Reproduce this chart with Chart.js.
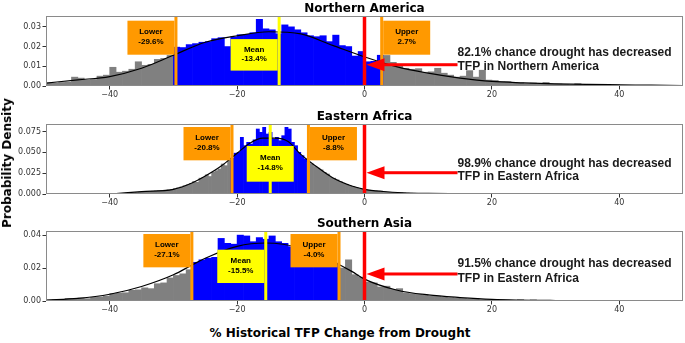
<!DOCTYPE html>
<html><head><meta charset="utf-8">
<script src="https://cdn.jsdelivr.net/npm/chart.js@4"></script>
<style>
html,body{margin:0;padding:0;background:#fff;}
#wrap{position:relative;width:685px;height:343px;overflow:hidden;background:#fff;}
canvas{position:absolute;left:0;}
.lbl{position:absolute;font:bold 12px "DejaVu Sans";color:#000;white-space:nowrap;transform-origin:center center;}
#xl{left:340px;top:333px;transform:translate(-50%,-50%);}
#yl{left:7px;top:163px;transform:translate(-50%,-50%) rotate(-90deg);}
</style></head><body>
<div id="wrap">
<canvas id="c0" width="685" height="106" style="top:0px"></canvas>
<canvas id="c1" width="685" height="106" style="top:108px"></canvas>
<canvas id="c2" width="685" height="106" style="top:215px"></canvas>
<div class="lbl" id="xl">% Historical TFP Change from Drought</div>
<div class="lbl" id="yl">Probability Density</div>
</div>
<script>
// ---------------- data ----------------
const regions = ['Northern America', 'Eastern Africa', 'Southern Asia'];
const annotRegions = ['Northern America', 'Eastern Africa', 'Eastern Africa'];
const chanceVals = [82.1, 98.9, 91.5];
const lowerVals = [-29.6, -20.8, -27.1];
const meanVals = [-13.4, -14.8, -15.5];
const upperVals = [2.7, -8.8, -4.0];
const xTicks = [-40, -20, 0, 20, 40];
const yTicks1 = [0, 0.01, 0.02, 0.03];
const yTicks2 = [0, 0.025, 0.05, 0.075];
const yTicks3 = [0, 0.02, 0.04];
const yMaxVals = [0.0355, 0.084, 0.0425];

// histogram 1: bins of width 1 starting at -50
const hist1Start = -50, hist1Width = 1;
const hist1 = [
0.0015,0.0015,0.0018,0.0020,0.0045,0.0040,0.0030,0.0032,0.0050,0.0055,
0.0095,0.0070,0.0075,0.0085,0.0123,0.0105,0.0110,0.0135,0.0140,0.0155,
0.0197,0.0195,0.0210,0.0215,0.0222,0.0225,0.0240,0.0245,0.0200,0.0250,
0.0260,0.0262,0.0270,0.0338,0.0290,0.0285,0.0265,0.0310,0.0300,0.0285,
0.0270,0.0255,0.0250,0.0255,0.0225,0.0258,0.0205,0.0200,0.0152,0.0175,
0.0123,0.0125,0.0156,
0.0155,0.0120,0.0105,0.0090,0.0085,0.0088,0.0070,0.0072,0.0090,0.0065,
0.0055,0.0045,0.0050,0.0078,0.0045,0.0080,0.0030,0.0028,0.0022,0.0022,
0.0018,0.0016,0.0012,0.0015,0.0010,0.0018,0.0009,0.0010,0.0008,0.0006,
0.0012,0.0006,0.0005,0.0004,0.0005,0.0003,0.0006,0.0003,0.0002,0.0003,
0.0002,0.0002,0.0001,0.0001,0.0001,0.0001,0.0001];
// histogram 2: bins of width 0.5 starting at -39
const hist2Start = -39, hist2Width = 0.5;
const hist2 = [
0.0005,0.0006,0.0008,0.0010,0.0012,0.0015,0.0018,0.0022,
0.0025,0.0028,0.0030,0.0033,0.0036,0.0040,0.0044,0.0048,0.0052,0.0056,
0.0065,0.0075,0.0085,0.0100,0.0110,0.0125,
0.0150,0.0140,0.0190,0.0200,
0.0230,0.0210,0.0260,0.0280,0.0300,
0.0360,0.0340,0.0410,
0.0430,
0.0490,0.0500,0.0680,0.0580,0.0620,0.0600,0.0650,0.0780,0.0740,0.0800,
0.0720,0.0740,0.0660,0.0680,0.0640,0.0700,0.0800,0.0780,0.0620,0.0580,
0.0500,0.0460,0.0420,
0.0380,
0.0360,0.0330,0.0310,0.0290,0.0260,0.0240,0.0200,0.0190,0.0170,0.0150,
0.0130,0.0115,0.0100,0.0090,0.0080,0.0065,0.0060,0.0050,0.0045,0.0040,
0.0038,0.0032,0.0028,0.0025,0.0022,0.0020,0.0018,0.0016,0.0015,0.0013,
0.0012,0.0010,0.0009,0.0008,0.0008,0.0007,0.0006,0.0006,0.0005,0.0005,
0.0004,0.0004,0.0003,0.0003,0.0003,0.0002,0.0002];
// histogram 3: bins of width 1 starting at -50
const hist3Start = -50, hist3Width = 1;
const hist3 = [
0.0005,0.0007,0.0009,0.0015,0.0012,0.0018,0.0014,0.0022,0.0025,0.0030,
0.0045,0.0048,0.0050,0.0065,0.0068,0.0080,0.0075,0.0105,0.0110,0.0140,
0.0155,0.0165,0.0190,
0.0235,0.0250,0.0260,0.0265,0.0380,0.0350,0.0345,0.0400,0.0395,0.0360,
0.0385,0.0375,0.0395,0.0360,0.0350,0.0330,0.0345,0.0310,0.0300,0.0285,
0.0270,0.0250,0.0230,
0.0200,0.0250,0.0160,0.0145,0.0115,0.0110,0.0085,0.0090,0.0070,0.0075,
0.0050,0.0045,0.0040,0.0038,0.0030,0.0028,0.0024,0.0020,0.0018,0.0015,
0.0012,0.0015,0.0008,0.0007,0.0006,0.0005,0.0004,0.0004,0.0008,0.0003,
0.0007,0.0003,0.0002,0.0002,0.0002,0.0002,0.0001,0.0001,0.0001,0.0001,
0.0001,0.0001,0.0001,0.0001,0.0001,0.0001,0.0001,0.0001,0.0001];

// fitted density curves
const curve1X = [-50,-45,-40,-35,-30,-25,-20,-15,-10,-5,0,5,10,15,20,25,30,35,40,45,50];
const curve1Y = [0.0015,0.0031,0.0048,0.0090,0.0156,0.0222,0.0255,0.0275,0.0264,0.0206,0.0148,0.0098,0.0065,0.0040,0.0023,0.0016,0.0011,0.0008,0.0006,0.0004,0.0002];
const curve2X = [-39,-35,-30,-27,-25,-22.5,-20,-18,-16,-14,-12,-10,-8,-5,-2,0,3,6,10,15];
const curve2Y = [0.0005,0.0028,0.0056,0.0135,0.0215,0.0335,0.049,0.061,0.067,0.067,0.063,0.0475,0.0355,0.0195,0.0096,0.0056,0.0030,0.0015,0.0007,0.0003];
const curve3X = [-50,-45,-40,-35,-30,-27,-25,-20,-15.5,-10,-5,-2,0,5,10,15,20,30,45];
const curve3Y = [0.0006,0.0016,0.0041,0.0088,0.0159,0.022,0.026,0.0332,0.0352,0.0321,0.024,0.018,0.0133,0.0067,0.0037,0.0021,0.0010,0.0003,0.0001];

const annotX = 14.6; // data x where the annotation text starts

// ---------------- styling ----------------
const GRAY = '#808080', BLUE = '#0000ff', ORANGE = '#ff9900', YELLOW = '#ffff00', RED = '#ff0000';
const boxLayouts = [
  {lower:['right',.067,.553], mean:['right',.33,.78], upper:['left',.067,.553]},
  {lower:['right',.043,.519], mean:['center',.314,.824], upper:['left',.043,.519]},
  {lower:['right',.043,.519], mean:['right',.267,.743], upper:['right',.043,.519]}
];
const annotLayouts = [
  {arrow:.696, l1:.52, l2:.72},
  {arrow:.696, l1:.567, l2:.757},
  {arrow:.614, l1:.471, l2:.681}
];

const hists = [[hist1Start,hist1Width,hist1],[hist2Start,hist2Width,hist2],[hist3Start,hist3Width,hist3]];
const curves = [[curve1X,curve1Y],[curve2X,curve2Y],[curve3X,curve3Y]];
const yTickSets = [yTicks1, yTicks2, yTicks3];
const yDecimals = [2, 3, 2];

function overlay(i){
  return {
    id: 'ov'+i,
    afterDatasetsDraw(chart){
      const ctx = chart.ctx, a = chart.chartArea, xs = chart.scales.x;
      const h = a.bottom - a.top;
      const L = boxLayouts[i];
      const defs = [['Lower', lowerVals[i], 'lower', ORANGE], ['Mean', meanVals[i], 'mean', YELLOW], ['Upper', upperVals[i], 'upper', ORANGE]];
      ctx.save();
      for (const [name, v, key, col] of defs){
        const px = xs.getPixelForValue(v);
        const [al, t, b] = L[key];
        const w = 47;
        const x0 = al === 'right' ? px - 1.5 - w : al === 'left' ? px + 1.5 : px - w/2;
        const y0 = a.top + t*h, y1 = a.top + b*h;
        ctx.fillStyle = col;
        ctx.fillRect(x0, y0, w, y1 - y0);
        ctx.fillStyle = '#000';
        ctx.font = 'bold 8px "Liberation Sans"';
        ctx.textAlign = 'center';
        ctx.textBaseline = 'middle';
        ctx.fillText(name, x0 + w/2, y0 + 0.33*(y1-y0));
        ctx.fillText(v.toFixed(1) + '%', x0 + w/2, y0 + 0.62*(y1-y0));
      }
      // arrow
      const A = annotLayouts[i];
      const tip = xs.getPixelForValue(0) + 2;
      const tail = xs.getPixelForValue(annotX);
      const ay = a.top + A.arrow*h;
      ctx.fillStyle = RED;
      ctx.fillRect(tip + 16, ay - 1.5, tail - tip - 16, 3);
      ctx.beginPath();
      ctx.moveTo(tip, ay);
      ctx.lineTo(tip + 18, ay - 6.5);
      ctx.lineTo(tip + 18, ay + 6.5);
      ctx.closePath();
      ctx.fill();
      // annotation text
      ctx.fillStyle = '#1a1a1a';
      ctx.font = 'bold 12px "Liberation Sans"';
      ctx.textAlign = 'left';
      ctx.textBaseline = 'middle';
      ctx.fillText(chanceVals[i].toFixed(1) + '% chance drought has decreased', tail, a.top + A.l1*h);
      ctx.fillText('TFP in ' + annotRegions[i], tail, a.top + A.l2*h);
      ctx.restore();
    },
    afterDraw(chart){
      const ctx = chart.ctx, a = chart.chartArea;
      ctx.save();
      ctx.strokeStyle = '#8a8a8a';
      ctx.lineWidth = 1;
      ctx.strokeRect(Math.round(a.left) + 0.5, Math.round(a.top) + 0.5, Math.round(a.right - a.left) - 1, Math.round(a.bottom - a.top) - 1);
      ctx.fillStyle = '#000';
      ctx.font = 'bold 12px "DejaVu Sans"';
      ctx.textAlign = 'center';
      ctx.textBaseline = 'alphabetic';
      ctx.fillText(regions[i], (a.left + a.right)/2, 11.5);
      ctx.restore();
    }
  };
}

function build(i){
  const [start, width, vals] = hists[i];
  const lo = lowerVals[i], up = upperVals[i], ym = yMaxVals[i];
  const barData = vals.map((v, k) => ({x: start + (k + 0.5)*width, y: v}));
  const [cx, cy] = curves[i];
  const curveData = cx.map((x, k) => ({x: x, y: cy[k]}));
  const vline = (v, col, lw, ord) => ({type:'line', data:[{x:v,y:0},{x:v,y:ym}], borderColor:col, borderWidth:lw, pointRadius:0, order:ord, fill:false});
  new Chart(document.getElementById('c'+i), {
    type: 'bar',
    data: {
      datasets: [
        {type:'bar', data: barData, order: 4, borderWidth: 0, barPercentage: 1, categoryPercentage: 1,
          backgroundColor: ctx => { const r = ctx.raw; if (!r) return GRAY; return (r.x < lo || r.x > up) ? GRAY : BLUE; }},
        {type:'line', data: curveData, borderColor:'#000', borderWidth:1.2, pointRadius:0, cubicInterpolationMode:'monotone', order:3, fill:false},
        vline(lo, ORANGE, 3, 2),
        vline(up, ORANGE, 3, 2),
        vline(meanVals[i], YELLOW, 3, 2),
        vline(0, RED, 3.5, 1)
      ]
    },
    options: {
      responsive: false, animation: false, devicePixelRatio: 1,
      layout: {padding: {top: 16, right: 2, left: 0, bottom: 0}},
      plugins: {legend: {display: false}, tooltip: {enabled: false}, title: {display: false}},
      scales: {
        x: {type:'linear', min:-50, max:50, offset:false,
          afterBuildTicks: s => { s.ticks = xTicks.map(v => ({value: v})); },
          afterFit: s => { s.height = 20; },
          grid: {display:true, drawOnChartArea:false, drawTicks:true, tickLength:3.5, color:'#333', offset:false},
          border: {display:false},
          ticks: {font:{family:'DejaVu Sans', size:8}, color:'#333', padding:1, maxRotation:0,
            callback: v => v < 0 ? '\u2212' + Math.abs(v) : String(v)}
        },
        y: {type:'linear', min:0, max:ym,
          afterBuildTicks: s => { s.ticks = yTickSets[i].map(v => ({value: v})); },
          afterFit: s => { s.width = 46; },
          grid: {display:true, drawOnChartArea:false, drawTicks:true, tickLength:3.5, color:'#333'},
          border: {display:false},
          ticks: {font:{family:'DejaVu Sans', size:8}, color:'#333', padding:1.5,
            callback: v => Number(v).toFixed(yDecimals[i])}
        }
      }
    },
    plugins: [overlay(i)]
  });
}
build(0); build(1); build(2);
</script>
</body></html>
